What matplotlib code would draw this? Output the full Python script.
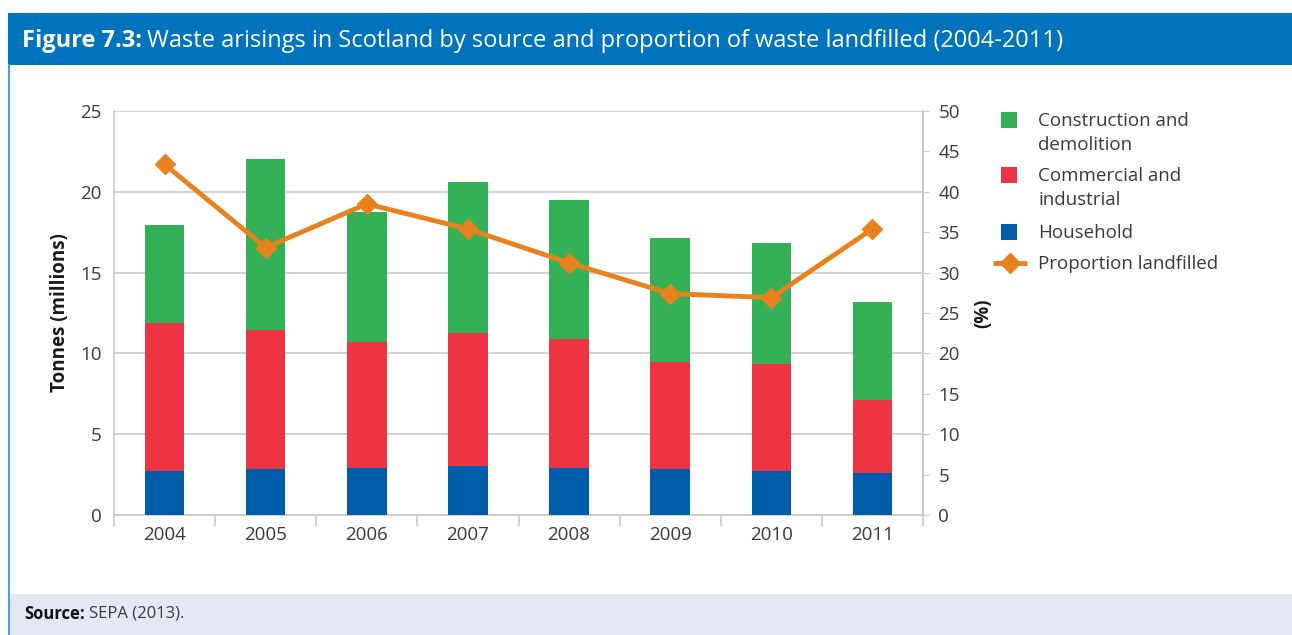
import numpy as np
import matplotlib
matplotlib.use("Agg")
import matplotlib.pyplot as plt
from matplotlib.patches import Rectangle
from matplotlib.lines import Line2D

plt.rcParams['font.family'] = ['Open Sans', 'DejaVu Sans']

# data
years = ['2004', '2005', '2006', '2007', '2008', '2009', '2010', '2011']
household = [2.74, 2.85, 2.93, 3.05, 2.93, 2.85, 2.74, 2.58]
commercial = [9.12, 8.62, 7.78, 8.23, 7.94, 6.64, 6.62, 4.52]
construction = [6.11, 10.56, 8.04, 9.35, 8.62, 7.63, 7.47, 6.06]
landfilled = [43.4, 33.1, 38.5, 35.4, 31.2, 27.4, 26.9, 35.4]

c_green = '#34B057'
c_red = '#EE3443'
c_blue = '#005DAA'
c_orange = '#E8821E'
c_grid = '#C9C9C9'
c_text = '#3a3a3a'

W, H = 1292, 635
fig = plt.figure(figsize=(W / 100, H / 100), dpi=100)

def fx(px):
    return px / W

def fy(py):
    return 1 - py / H

# header band and source band
fig.add_artist(Rectangle((fx(8), fy(65)), 1, 52 / H, transform=fig.transFigure,
                         facecolor='#0073BD', edgecolor='none'))
fig.add_artist(Rectangle((fx(9), 0), 1, 41 / H, transform=fig.transFigure,
                         facecolor='#E3E8F5', edgecolor='none'))
fig.add_artist(Line2D([fx(8.5), fx(8.5)], [0, fy(65)], transform=fig.transFigure,
                      color='#5B9BD5', lw=1.5))

ax = fig.add_axes([fx(114), fy(515), (923 - 114) / W, (515 - 111) / H])
x = np.arange(len(years))
bw = 0.39
ax.bar(x, household, bw, color=c_blue, zorder=3)
ax.bar(x, commercial, bw, bottom=household, color=c_red, zorder=3)
bottom2 = np.array(household) + np.array(commercial)
ax.bar(x, construction, bw, bottom=bottom2, color=c_green, zorder=3)

ax.set_xlim(-0.5, len(years) - 0.5)
ax.set_ylim(0, 25)
ax.set_yticks(range(0, 26, 5))
ax.yaxis.grid(True, color=c_grid, lw=1.2, zorder=0)
ax.set_axisbelow(True)
ax.set_xticks(x)
ax.set_xticklabels(years)
ax.set_xticks(np.arange(-0.5, len(years), 1), minor=True)
ax.tick_params(axis='x', which='major', length=0, pad=8, labelsize=13.5, colors=c_text)
ax.tick_params(axis='x', which='minor', length=8, color=c_grid, width=1.2)
ax.tick_params(axis='y', length=0, pad=9, labelsize=13.5, colors=c_text)
for s in ax.spines.values():
    s.set_color(c_grid)
    s.set_linewidth(1.2)
ax.spines['top'].set_visible(False)
ax.set_ylabel('Tonnes (millions)', fontsize=13.5, fontweight='bold', color='#1a1a1a', labelpad=7)

ax2 = ax.twinx()
ax2.plot(x, landfilled, color=c_orange, lw=3.5, marker='D', markersize=10, zorder=5)
ax2.set_ylim(0, 50)
ax2.set_yticks(range(0, 51, 5))
ax2.tick_params(axis='y', length=4, color=c_grid, pad=7, labelsize=13.5, colors=c_text)
for s in ax2.spines.values():
    s.set_visible(False)
ax2.spines['right'].set_visible(True)
ax2.spines['right'].set_color(c_grid)
ax2.spines['right'].set_linewidth(1.2)
ax2.set_ylabel('(%)', fontsize=13.5, fontweight='bold', color='#1a1a1a', labelpad=10)

# legend, drawn by hand so the swatch sits on the first line of each label
leg_items = [('patch', c_green, 'Construction and\ndemolition', 120),
             ('patch', c_red, 'Commercial and\nindustrial', 175),
             ('patch', c_blue, 'Household', 232),
             ('line', c_orange, 'Proportion landfilled', 263)]
for kind, col, lab, yc in leg_items:
    if kind == 'patch':
        fig.add_artist(Rectangle((fx(1001), fy(yc + 8)), 16 / W, 16 / H,
                                 transform=fig.transFigure, facecolor=col, edgecolor='none'))
    else:
        fig.add_artist(Line2D([fx(993), fx(1010), fx(1027)], [fy(yc)] * 3,
                              transform=fig.transFigure, color=col, lw=3.5, marker='D',
                              markersize=10, markevery=[1], solid_capstyle='butt'))
    fig.text(fx(1038), fy(yc - 8), lab, fontsize=13.5, color=c_text, va='top',
             linespacing=1.4)

# header title
r = fig.canvas.get_renderer()
t1 = fig.text(fx(22), fy(41), 'Figure 7.3:', color='white', fontsize=17,
              fontweight='bold', va='center')
bb = t1.get_window_extent(renderer=r)
fig.text((bb.x1 + 5) / W, fy(41),
         'Waste arisings in Scotland by source and proportion of waste landfilled (2004-2011)',
         color='white', fontsize=17, va='center')

s1 = fig.text(fx(24), 21 / H, 'Source:', color='#111111', fontsize=12, fontweight='bold', va='center')
bb = s1.get_window_extent(renderer=r)
fig.text((bb.x1 + 4) / W, 21 / H, 'SEPA (2013).', color=c_text, fontsize=12, va='center')

fig.savefig('out.png', dpi=100)
